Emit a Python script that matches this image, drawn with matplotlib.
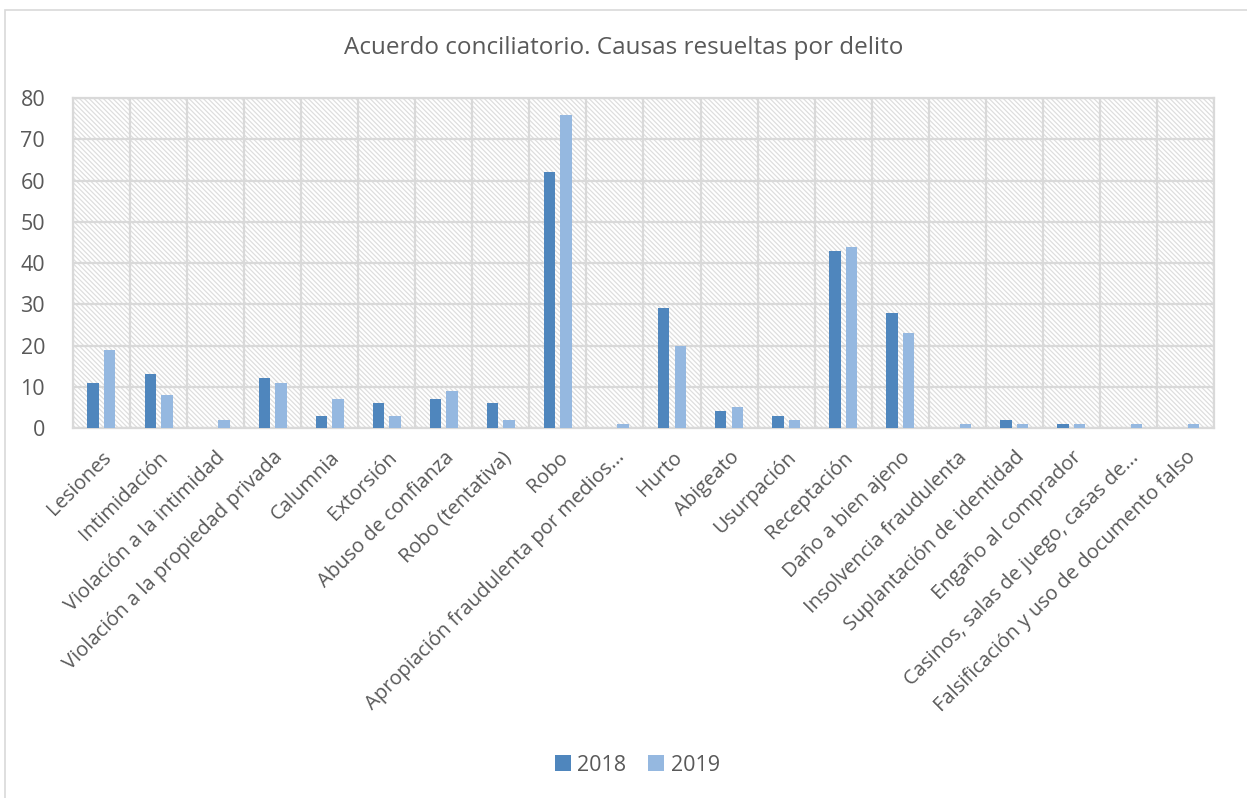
import numpy as np
import matplotlib
matplotlib.use('Agg')
import matplotlib.pyplot as plt
from matplotlib.patches import Rectangle

# Data
categories = ['Lesiones', 'Intimidación', 'Violación a la intimidad',
              'Violación a la propiedad privada', 'Calumnia', 'Extorsión',
              'Abuso de confianza', 'Robo (tentativa)', 'Robo',
              'Apropiación fraudulenta por medios...', 'Hurto', 'Abigeato',
              'Usurpación', 'Receptación', 'Daño a bien ajeno',
              'Insolvencia fraudulenta', 'Suplantación de identidad',
              'Engaño al comprador', 'Casinos, salas de juego, casas de...',
              'Falsificación y uso de documento falso']
vals_2018 = [11, 13, 0, 12, 3, 6, 7, 6, 62, 0, 29, 4, 3, 43, 28, 0, 2, 1, 0, 0]
vals_2019 = [19, 8, 2, 11, 7, 3, 9, 2, 76, 1, 20, 5, 2, 44, 23, 1, 1, 1, 1, 1]
series_names = ['2018', '2019']

plt.rcParams['font.family'] = ['Open Sans', 'DejaVu Sans']
plt.rcParams['hatch.color'] = '#dedede'
plt.rcParams['hatch.linewidth'] = 0.9
text_col = '#595959'

fig = plt.figure(figsize=(12.47, 7.98), dpi=100)
ax = fig.add_axes([0.0585, 0.4637, 0.915, 0.4133])

x = np.arange(len(categories))
w = 0.2
ax.bar(x - 0.145, vals_2018, w, color='#4f86bd', label=series_names[0], zorder=3)
ax.bar(x + 0.145, vals_2019, w, color='#95b8e0', label=series_names[1], zorder=3)

ax.set_xlim(-0.5, len(categories) - 0.5)
ax.set_ylim(0, 80)
ax.set_yticks(range(0, 81, 10))
ax.set_xticks(x)
ax.set_xticklabels(categories, rotation=45, ha='right', rotation_mode='anchor')
ax.set_xticks(np.arange(-0.5, len(categories), 1), minor=True)

# hatched background
ax.patch.set_facecolor('white')
ax.patch.set_hatch('\\' * 7)
ax.patch.set_edgecolor('#dedede')

ax.grid(axis='y', which='major', color='#d9d9d9', linewidth=1.6, zorder=1)
ax.grid(axis='x', which='minor', color='#d9d9d9', linewidth=1.6, zorder=1)
ax.set_axisbelow(True)
for s in ax.spines.values():
    s.set_color('#d9d9d9')
    s.set_linewidth(1.6)

ax.tick_params(axis='both', which='both', length=0, colors=text_col)
ax.tick_params(axis='y', pad=20, labelsize=15.5)
ax.tick_params(axis='x', pad=14, labelsize=14.5)

fig.text(0.5, 0.94, 'Acuerdo conciliatorio. Causas resueltas por delito',
         ha='center', va='center', fontsize=17.5, color=text_col)

leg = fig.legend(loc='center', bbox_to_anchor=(0.511, 0.041), ncol=2, frameon=False,
                 fontsize=15.5, handlelength=0.75, handleheight=0.75, columnspacing=1.0,
                 handletextpad=0.3, labelcolor=text_col)

fig.patches.append(Rectangle((0.004, -0.01), 1.0, 0.998, transform=fig.transFigure,
                             fill=False, edgecolor='#d9d9d9', linewidth=1.2))

fig.savefig('out.png', dpi=100)
